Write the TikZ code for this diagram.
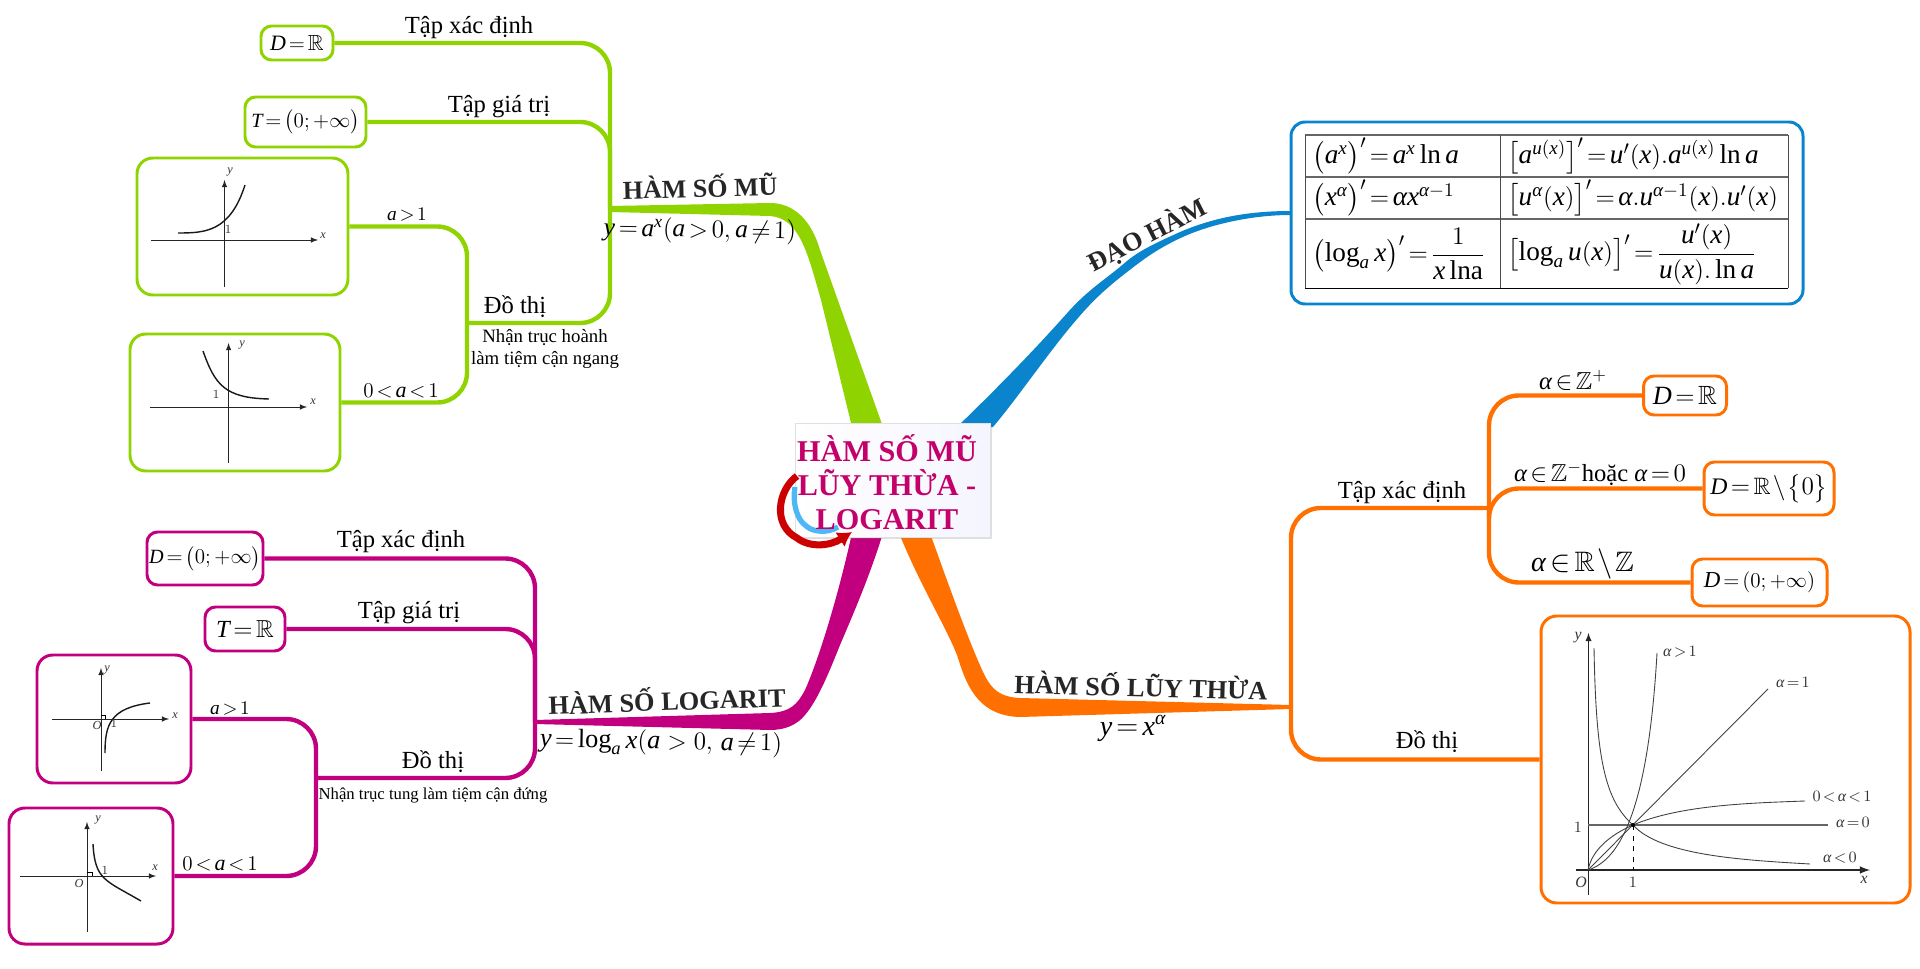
\documentclass[tikz,border=0pt]{standalone}
\usepackage{amsmath}
\usepackage{amssymb}
\usepackage{fontspec}
\setmainfont{Liberation Serif}
\DeclareSymbolFont{myit}{TU}{\rmdefault}{m}{it}
\Umathcode`a=7 \symmyit `a
\Umathcode`x=7 \symmyit `x
\Umathcode`y=7 \symmyit `y
\Umathcode`u=7 \symmyit `u
\Umathcode`D=7 \symmyit `D
\Umathcode`T=7 \symmyit `T
\Umathcode`O=7 \symmyit `O
\Umathchardef\alpha=7 \symmyit "03B1
\thickmuskip=2.5mu
\medmuskip=1.5mu
\definecolor{MyGreen}{HTML}{8FD400}
\definecolor{MyBlue}{HTML}{0A84CC}
\definecolor{MyOrange}{HTML}{FF7000}
\definecolor{MyPink}{HTML}{C2007F}
\definecolor{MyTitle}{HTML}{C4006A}
\definecolor{MyCyan}{HTML}{4DB8F5}
\usetikzlibrary{arrows.meta, calc, shadows}
\def\px{0.02cm}
\tikzset{
	sz/.style 2 args={minimum width=#1*\px, minimum height=#2*\px},
	mbox/.style={draw, line width=1.7pt, rounded corners=6pt, inner sep=0pt, fill=white},
	twig/.style={line width=2.5pt, rounded corners=17pt},
	lbl/.style={font=\fontsize{14}{17}\selectfont, inner sep=0pt},
	small lbl/.style={font=\fontsize{10.7}{11.5}\selectfont, inner sep=0pt},
	head/.style={font=\fontsize{15}{18}\selectfont\bfseries, text=black!85, inner sep=0pt},
	gl/.style={font=\fontsize{7}{8}\selectfont, inner sep=0pt, text=black!80},
	bl/.style={font=\fontsize{9}{10}\selectfont, inner sep=0pt, text=black!80},
	cell/.style={font=\fontsize{15.5}{18}\selectfont, inner sep=0pt, anchor=west},
	axis/.style={-latex, black!85, line width=.4pt},
	curve/.style={line width=.8pt, black!90},
	thinc/.style={line width=.5pt, black!75}
}

\begin{document}
\begin{tikzpicture}[x=0.02cm, y=-0.02cm]
	\useasboundingbox (0,0) rectangle (1920,969);
	
	\coordinate (ctrNW) at (795,423);
	\coordinate (ctrSW) at (795,537);
	\coordinate (gTr) at (610,209);
	\coordinate (gSub) at (467,323);
	\coordinate (mTr) at (535,722);
	\coordinate (mSub) at (316,778);
	\coordinate (oJ) at (1291,707);
	\coordinate (oSub) at (1489,508);
	\coordinate (bEnd) at (1291,213);
	
	% main branches
	\fill[MyGreen] ($(gTr)+(0,-3)$) -- (770,203) .. controls (795,203) and (812,222) .. (820,250) -- ($(ctrNW)+(88,4)$) -- ($(ctrNW)+(57,4)$) -- (821,300) .. controls (808,255) and (800,218) .. (770,216) -- ($(gTr)+(0,3)$) -- cycle;
	\fill[MyBlue] ($(bEnd)+(0,-2)$) .. controls (1250,211) and (1215,217) .. (1180,232) .. controls (1160,241) and (1140,250) .. (1127,261) .. controls (1105,280) and (1090,288) .. (1069,311) .. controls (1030,355) and (990,395) .. ($(ctrNW)+(162,4)$) -- ($(ctrNW)+(198,4)$) .. controls (1020,395) and (1050,350) .. (1078,318) .. controls (1095,298) and (1110,285) .. (1131,269) .. controls (1150,254) and (1165,245) .. (1185,236) .. controls (1210,225) and (1250,215) .. ($(bEnd)+(0,2)$) -- cycle;
	\fill[MyPink] ($(mTr)+(0,-2)$) -- (770,713) .. controls (790,712) and (797,705) .. (805,690) .. controls (815,668) and (835,610) .. ($(ctrSW)+(57,-4)$) -- ($(ctrSW)+(88,-4)$) .. controls (870,575) and (855,610) .. (840,645) .. controls (830,670) and (818,700) .. (805,715) .. controls (797,725) and (785,730) .. (770,730) -- ($(mTr)+(0,2)$) -- cycle;
	\fill[MyOrange] ($(oJ)+(0,-2)$) -- (1020,698) .. controls (1000,697) and (992,690) .. (984,674) .. controls (970,645) and (945,575) .. ($(ctrSW)+(135,-4)$) -- ($(ctrSW)+(104,-4)$) .. controls (920,585) and (945,625) .. (957,655) .. controls (965,680) and (975,716) .. (1020,717) -- ($(oJ)+(0,2)$) -- cycle;
	
	% boxes of the green side
	\node[mbox, draw=MyGreen, sz={72}{34}] (gD) at (297,43) {\fontsize{12.5}{15}\selectfont $D=\mathbb{R}$};
	\node[mbox, draw=MyGreen, sz={121}{50}] (gT) at (305.5,122) {\fontsize{11.5}{15}\selectfont $T=\bigl(0;+\infty\bigr)$};
	\node[mbox, draw=MyGreen, sz={211}{137}, rounded corners=9pt] (gA) at (242.5,226.5) {};
	\node[mbox, draw=MyGreen, sz={210}{137}, rounded corners=9pt] (gB) at (235,402.5) {};
	
	\draw[twig, MyGreen] (gD.east) -| (gTr);
	\draw[twig, MyGreen] (gT.east) -| (gTr);
	\draw[twig, MyGreen] (gSub) -| (gTr);
	\draw[twig, MyGreen] (gA.east) -| (gSub);
	\draw[twig, MyGreen] (gB.east) -| (gSub);
	
	\draw[axis] (224.5,287) -- (224.5,180);
	\draw[axis] (151,240) -- (318,240);
	\draw[curve] (178,233) .. controls (205,233) and (230,232) .. (245,185);
	\node[gl] (gAy) at (230,172) {$y$};
	\node[gl] (gAx) at (323,236) {$x$};
	\node[gl] (gA1) at (228,230) {$1$};
	\draw[axis] (228.6,463) -- (228.6,343);
	\draw[axis] (150,407) -- (307,407);
	\draw[curve] (203,351) .. controls (215,385) and (225,398) .. (269,399);
	\node[gl] (gBy) at (242,345) {$y$};
	\node[gl] (gBx) at (313,402) {$x$};
	\node[gl] (gB1) at (216,395) {$1$};
	
	\node[lbl] (gL1) at (469,28) {Tập xác định};
	\node[lbl] (gL2) at (499,107) {Tập giá trị};
	\node[lbl] (gL3) at (515,307) {Đồ thị};
	\node[inner sep=0pt, font=\fontsize{11}{12}\selectfont] (gL4) at (407,215) {$a>1$};
	\node[inner sep=0pt, font=\fontsize{12.5}{12}\selectfont] (gL5) at (401,391) {$0<a<1$};
	\node[small lbl, align=center] (gL6) at (545,349) {Nhận trục hoành\\[1pt]làm tiệm cận ngang};
	\node[head, font=\fontsize{14.8}{18}\selectfont\bfseries, rotate=1.5] (gHead) at (700,186) {HÀM SỐ MŨ};
	\node[inner sep=0pt, font=\fontsize{14.5}{18}\selectfont, rotate=-1] (gEq) at (700,231) {$y=a^x(a>0,a\neq 1)$};
	
	% boxes of the pink side
	\node[mbox, draw=MyPink, sz={116}{53}] (mD) at (205,558.5) {\fontsize{11.5}{15}\selectfont $D=\bigl(0;+\infty\bigr)$};
	\node[mbox, draw=MyPink, sz={80}{44}] (mT) at (245,629) {\fontsize{14}{15}\selectfont $T=\mathbb{R}$};
	\node[mbox, draw=MyPink, sz={154}{128}, rounded corners=9pt] (mA) at (114,719) {};
	\node[mbox, draw=MyPink, sz={164}{136}, rounded corners=9pt] (mB) at (91,876) {};
	
	\draw[twig, MyPink] (mD.east) -| (mTr);
	\draw[twig, MyPink] (mT.east) -| (mTr);
	\draw[twig, MyPink] (mSub) -| (mTr);
	\draw[twig, MyPink] (mA.east) -| (mSub);
	\draw[twig, MyPink] (mB.east) -| (mSub);
	
	\draw[axis] (101,771) -- (101,668);
	\draw[axis] (52,719) -- (169,719);
	\draw[line width=.3pt] (101,715) -- (105,715) -- (105,719);
	\draw[curve] (105,753) .. controls (105,725) and (110,708) .. (150,703);
	\node[gl] (mAy) at (107,670) {$y$};
	\node[gl] (mAx) at (175,716) {$x$};
	\node[gl] (mAo) at (97,725) {$O$};
	\node[gl] (mA1) at (114,724) {$1$};
	\draw[axis] (87,932) -- (87,822);
	\draw[axis] (20,876) -- (156,876);
	\draw[line width=.3pt] (87,872) -- (92,872) -- (92,876);
	\draw[curve] (93,844) .. controls (95,880) and (105,880) .. (141,901);
	\node[gl] (mBy) at (98,820) {$y$};
	\node[gl] (mBx) at (155,868) {$x$};
	\node[gl] (mBo) at (79,883) {$O$};
	\node[gl] (mB1) at (105,871) {$1$};
	
	\node[lbl] (mL1) at (401,542) {Tập xác định};
	\node[lbl] (mL2) at (409,613) {Tập giá trị};
	\node[lbl] (mL3) at (433,762) {Đồ thị};
	\node[inner sep=0pt, font=\fontsize{11}{12}\selectfont] (mL4) at (230,709) {$a>1$};
	\node[inner sep=0pt, font=\fontsize{12.5}{12}\selectfont] (mL5) at (220,864) {$0<a<1$};
	\node[small lbl, font=\fontsize{9.5}{12}\selectfont] (mL6) at (433,795) {Nhận trục tung làm tiệm cận đứng};
	\node[head, rotate=2] (mHead) at (667,699) {HÀM SỐ LOGARIT};
	\node[inner sep=0pt, font=\fontsize{15}{18}\selectfont, rotate=-1] (mEq) at (661,743) {$y=\log_a x(a\;>\;0,\;a\neq 1)$};
	
	% table of derivatives
	\node[mbox, draw=MyBlue, sz={512}{182}, rounded corners=8pt] (bBox) at (1547,213) {};
	\foreach \yy in {135,177,219} {
		\draw[black!60, line width=.7pt] (1305,\yy) -- (1788,\yy);
	}
	\draw[line width=.5pt] (1305,288) -- (1788,288);
	\draw[black!70, line width=.5pt] (1305,135) -- (1305,288);
	\draw[black!70, line width=.5pt] (1500,135) -- (1500,288);
	\draw[black!70, line width=.5pt] (1788,135) -- (1788,288);
	\node[cell] (bA1) at (1312,156) {$\bigl(a^x\bigr)'=a^x\ln a$};
	\node[cell] (bA2) at (1507,156) {$\bigl[a^{u(x)}\bigr]'=u'(x).a^{u(x)}\ln a$};
	\node[cell] (bB1) at (1312,198) {$\bigl(x^{\alpha}\bigr)'=\alpha x^{\alpha-1}$};
	\node[cell] (bB2) at (1507,198) {$\bigl[u^{\alpha}(x)\bigr]'=\alpha.u^{\alpha-1}(x).u'(x)$};
	\node[cell] (bC1) at (1312,254) {$\bigl(\log_a x\bigr)'=\dfrac{1}{x\,\mathrm{lna}}$};
	\node[cell] (bC2) at (1507,254) {$\bigl[\log_a u(x)\bigr]'=\dfrac{u'(x)}{u(x).\ln a}$};
	\node[head, rotate=27] (bHead) at (1147,235) {ĐẠO HÀM};
	
	% orange side
	\node[mbox, draw=MyOrange, sz={83}{39}] (oD1) at (1685,395.5) {\fontsize{15}{15}\selectfont $D=\mathbb{R}$};
	\node[mbox, draw=MyOrange, sz={130}{53}] (oD2) at (1769,488.5) {\fontsize{13.5}{15}\selectfont $D=\mathbb{R}\setminus\bigl\{0\bigr\}$};
	\node[mbox, draw=MyOrange, sz={135}{47}] (oD3) at (1759.5,582.5) {\fontsize{13}{15}\selectfont $D=(0;+\infty)$};
	\node[mbox, draw=MyOrange, sz={369}{287}, rounded corners=9pt] (oG) at (1725.5,759.5) {};
	
	\draw[twig, MyOrange] (oD1.west) -| (oSub);
	\draw[twig, MyOrange] (oD2.west) -| (oSub);
	\draw[twig, MyOrange] (oD3.west) -| (oSub);
	\draw[twig, MyOrange] (oSub) -| (oJ);
	\draw[twig, MyOrange] (oG.west) -| (oJ);
	
	\draw[axis, line width=.6pt] (1588.5,895) -- (1588.5,633);
	\draw[axis, line width=1pt] (1576,870) -- (1870,870);
	\draw[black!60, line width=1pt] (1588,825) -- (1828,825);
	\draw[thinc] (1588,870) -- (1768,689);
	\draw[thinc] (1588,870) .. controls (1620,860) and (1648,810) .. (1657,653);
	\draw[thinc] (1594,648) .. controls (1596,760) and (1605,800) .. (1633,825) .. controls (1660,855) and (1740,860) .. (1810,864);
	\draw[thinc] (1588,870) .. controls (1592,850) and (1610,835) .. (1633,825) .. controls (1680,805) and (1750,803) .. (1805,801);
	\draw[dashed, line width=.5pt] (1633,825) -- (1633,870);
	\fill (1633,825) circle (2);
	\node[bl] (oGy) at (1578,638) {$y$};
	\node[bl] (oG1) at (1578,827) {$1$};
	\node[bl] (oGo) at (1581,882) {$O$};
	\node[bl] (oGa) at (1633,882) {$1$};
	\node[bl] (oGx) at (1864,880) {$x$};
	\node[bl] (oLa) at (1680,652) {$\alpha>1$};
	\node[bl] (oLb) at (1793,682) {$\alpha=1$};
	\node[bl] (oLc) at (1842,797) {$0<\alpha<1$};
	\node[bl] (oLd) at (1853,822) {$\alpha=0$};
	\node[bl] (oLe) at (1840,858) {$\alpha<0$};
	
	\node[lbl] (oL1) at (1402,493) {Tập xác định};
	\node[lbl] (oL2) at (1427,742) {Đồ thị};
	\node[inner sep=0pt, font=\fontsize{14}{15}\selectfont] (oL3) at (1573,380) {$\alpha\in\mathbb{Z}^{+}$};
	\node[inner sep=0pt, font=\fontsize{14}{15}\selectfont] (oL4) at (1600,474) {$\alpha\in\mathbb{Z}^{-}$hoặc $\alpha=0$};
	\node[inner sep=0pt, font=\fontsize{16}{16}\selectfont] (oL5) at (1582.5,564) {$\alpha\in\mathbb{R}\setminus\mathbb{Z}$};
	\node[head, rotate=-1.5] (oHead) at (1141,685) {HÀM SỐ LŨY THỪA};
	\node[inner sep=0pt, font=\fontsize{16}{18}\selectfont] (oEq) at (1133,728) {$y=x^{\alpha}$};
	
	% centre box, then its arrows, then its text
	\node[draw=black!12, left color=white, right color=blue!4!white, sz={195}{114}, inner sep=0pt, drop shadow={shadow xshift=1pt, shadow yshift=-1pt, opacity=.25}] (ctr) at (892.5,480) {};
	\draw[red!80!black, line width=4pt, -{Latex[length=8pt, width=10pt]}] (797,476) .. controls (778,490) and (772,525) .. (797,538) .. controls (810,548) and (830,546) .. (852,532);
	\draw[MyCyan, line width=3pt] (795,487) .. controls (792,505) and (798,520) .. (805,525) .. controls (813,533) and (828,533) .. (838,527);
	\node[font=\fontsize{17.2}{19.4}\selectfont\bfseries, text=MyTitle, align=center, inner sep=0pt] (ctrTxt) at (887,482) {HÀM SỐ MŨ\\LŨY THỪA -\\LOGARIT};
\end{tikzpicture}
\end{document}
